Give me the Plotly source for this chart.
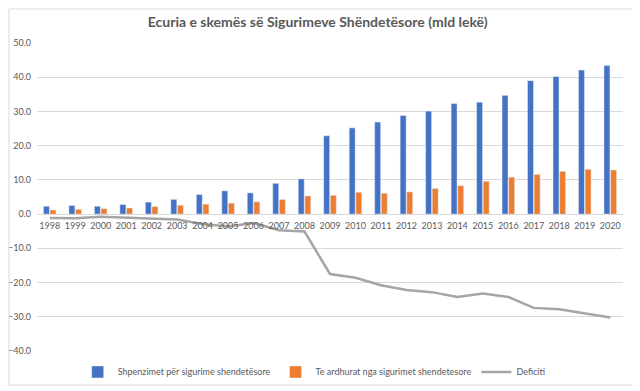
import plotly.graph_objects as go

years = [str(y) for y in range(1998, 2021)]
shpenzimet = [2.3, 2.5, 2.3, 2.8, 3.5, 4.3, 5.7, 6.8, 6.2, 9.0, 10.3,
              22.9, 25.2, 26.9, 28.8, 30.1, 32.3, 32.7, 34.7, 39.0, 40.2, 42.1, 43.4]
te_ardhurat = [1.2, 1.4, 1.6, 1.8, 2.2, 2.6, 2.9, 3.2, 3.6, 4.3, 5.3,
               5.5, 6.4, 6.1, 6.5, 7.5, 8.3, 9.6, 10.8, 11.6, 12.5, 13.1, 12.9]
deficiti = [-1.1, -1.2, -0.8, -1.0, -1.3, -1.6, -2.9, -3.6, -2.6, -4.7, -5.1,
            -17.5, -18.6, -20.8, -22.2, -22.8, -24.2, -23.2, -24.2, -27.4, -27.8, -29.1, -30.2]
y_ticks = [-40, -30, -20, -10, 0, 10, 20, 30, 40, 50]

FONT = "Lato, Carlito, 'Liberation Sans', sans-serif"
GREY_TXT = "#595959"

# page body has an 8px default margin: figure is sized/positioned to compensate
W, H = 632, 383

fig = go.Figure()
fig.add_trace(go.Bar(x=years, y=shpenzimet, name="Shpenzimet për sigurime shendetësore",
                     marker_color="#4472C4"))
fig.add_trace(go.Bar(x=years, y=te_ardhurat, name="Te ardhurat nga sigurimet shendetesore",
                     marker_color="#ED7D31"))
fig.add_trace(go.Scatter(x=years, y=deficiti, name="Deficiti", mode="lines",
                         line=dict(color="#A5A5A5", width=2.5)))

ymin, ymax = -40, 50
fig.update_layout(
    width=W, height=H,
    margin=dict(l=29, r=17, t=35, b=40, autoexpand=False),
    paper_bgcolor="white", plot_bgcolor="white",
    font=dict(family=FONT, size=9, color=GREY_TXT),
    title=dict(text="<b>Ecuria e skemës së Sigurimeve Shëndetësore (mld lekë)</b>",
               x=0.49, xanchor="center", y=1 - 14 / H, yanchor="middle",
               font=dict(size=14, color=GREY_TXT, family=FONT)),
    barmode="group", bargap=0.48, bargroupgap=0.1,
    showlegend=True,
    legend=dict(orientation="h", x=0.473, xanchor="center", y=-0.068, yanchor="middle",
                font=dict(size=9, color=GREY_TXT), itemwidth=30,
                bgcolor="rgba(0,0,0,0)"),
    xaxis=dict(type="category", anchor="free", position=(0 - ymin) / (ymax - ymin),
               showline=False, showgrid=False, ticks="", ticklabelstandoff=5,
               tickangle=0, automargin=False,
               tickfont=dict(size=9, color=GREY_TXT)),
    yaxis=dict(range=[ymin, ymax], tickvals=y_ticks, tickformat=".1f",
               showgrid=True, gridcolor="#D9D9D9", gridwidth=1,
               zeroline=True, zerolinecolor="#D9D9D9", zerolinewidth=1,
               showline=False, ticks="", ticklabelstandoff=5, automargin=False,
               tickfont=dict(size=9, color=GREY_TXT)),
)
fig.add_shape(type="rect", xref="paper", yref="paper",
              x0=-28 / 586, x1=1 + 12 / 586, y0=-34 / 308, y1=1 + 34 / 308,
              line=dict(color="#D9D9D9", width=1), layer="above")

fig.write_html("out.html")
